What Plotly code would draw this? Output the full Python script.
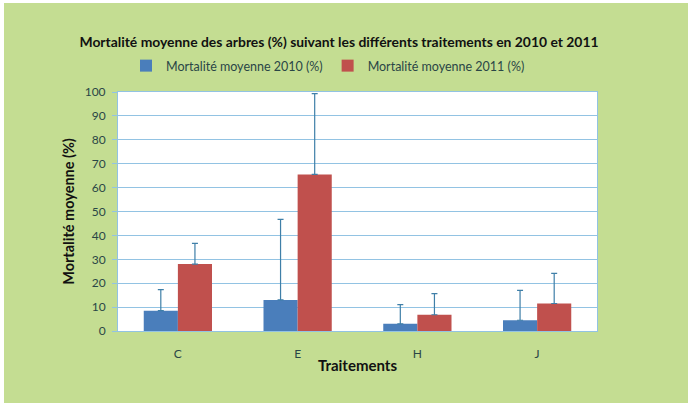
import plotly.graph_objects as go

# Treatments and mean tree mortality (%) with upper error bars
traitements = ["C", "E", "H", "J"]
mortalite_2010 = [8.5, 13.0, 3.0, 4.5]
erreur_2010 = [8.8, 33.7, 8.0, 12.5]
mortalite_2011 = [28.0, 65.5, 6.8, 11.5]
erreur_2011 = [8.7, 33.8, 8.8, 12.6]
y_ticks = [0, 10, 20, 30, 40, 50, 60, 70, 80, 90, 100]

W, H = 688, 403
L, R, T, B = 118, 91, 92, 72
PW, PH = W - L - R, H - T - B

FONT = "Lato"
ERR_COLOR = "#3f7fa8"
BG_GREEN = "#c4dd92"
GRID_BLUE = "#92c3e3"


def px_x(px):
    return (px - L) / PW


def px_y(py):
    return (H - B - py) / PH


fig = go.Figure()
fig.add_trace(go.Bar(
    x=traitements, y=mortalite_2010, name="Mortalité moyenne 2010 (%)",
    marker=dict(color="#4a7ebb", line=dict(width=0)),
    error_y=dict(type="data", array=erreur_2010, symmetric=False,
                 arrayminus=[0] * len(erreur_2010),
                 color=ERR_COLOR, thickness=1.2, width=3),
))
fig.add_trace(go.Bar(
    x=traitements, y=mortalite_2011, name="Mortalité moyenne 2011 (%)",
    marker=dict(color="#c0504d", line=dict(width=0)),
    error_y=dict(type="data", array=erreur_2011, symmetric=False,
                 arrayminus=[0] * len(erreur_2011),
                 color=ERR_COLOR, thickness=1.2, width=3),
))

# thin white strips along the left and top edges of the green chart area
fig.add_shape(type="rect", xref="paper", yref="paper", layer="above",
              x0=px_x(-2), x1=px_x(4), y0=px_y(H + 2), y1=px_y(-2),
              fillcolor="#ffffff", line=dict(width=0))
fig.add_shape(type="rect", xref="paper", yref="paper", layer="above",
              x0=px_x(-2), x1=px_x(W + 2), y0=px_y(3), y1=px_y(-2),
              fillcolor="#ffffff", line=dict(width=0))

fig.update_layout(
    width=W, height=H,
    margin=dict(l=L, r=R, t=T, b=B),
    paper_bgcolor=BG_GREEN,
    plot_bgcolor="#ffffff",
    barmode="group", bargap=0.43, bargroupgap=0,
    font=dict(family=FONT, color="#2a4646", size=11),
    title=dict(
        text="<b>Mortalité moyenne des arbres (%) suivant les différents traitements en 2010 et 2011</b>",
        x=339 / W, xanchor="center", xref="container", y=1 - 42 / H, yanchor="middle",
        font=dict(family=FONT, size=13.9, color="#111111"),
    ),
    legend=dict(
        orientation="h", x=px_x(126), xanchor="left", xref="paper",
        y=px_y(66), yanchor="middle",
        font=dict(family=FONT, size=12.5, color="#2a4646"),
        bgcolor="rgba(0,0,0,0)", tracegroupgap=0,
    ),
    showlegend=True,
)

fig.update_xaxes(
    title=dict(text="<b>Traitements</b>", font=dict(family=FONT, size=15, color="#111111"),
               standoff=0),
    showgrid=False, ticks="", showline=True, linecolor=GRID_BLUE, linewidth=1,
    mirror=True, ticklabelstandoff=12,
    tickfont=dict(family=FONT, size=12, color="#2a4646"),
)
fig.update_yaxes(
    title=dict(text="<b>Mortalité moyenne (%)</b>", font=dict(family=FONT, size=14.5, color="#111111"),
               standoff=6),
    range=[0, 100], tickvals=y_ticks, showgrid=True, gridcolor=GRID_BLUE, gridwidth=1,
    showline=True, linecolor=GRID_BLUE, linewidth=1, mirror=True,
    ticks="outside", ticklen=5, tickcolor=GRID_BLUE, ticklabelstandoff=4,
    tickfont=dict(family=FONT, size=12, color="#2a4646"), zeroline=False,
)

fig.write_html("out.html")
